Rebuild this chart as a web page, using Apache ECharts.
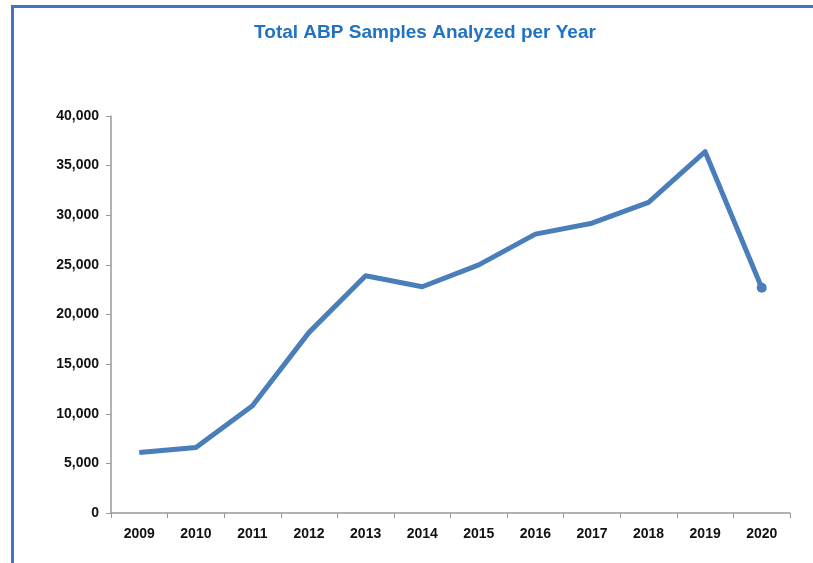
<!DOCTYPE html>
<html><head><meta charset="utf-8">
<script src="https://cdn.jsdelivr.net/npm/echarts@6/dist/echarts.min.js"></script>
<style>
html,body{margin:0;padding:0;background:#fff;}
#frame{position:absolute;left:11px;top:5px;width:802px;height:558px;border-left:3px solid #4472C4;border-top:3px solid #4472C4;}
#c{position:absolute;left:0;top:0;width:813px;height:563px;}
</style></head>
<body>
<div id="frame"></div>
<div id="c"></div>
<script>
const titleText = "Total ABP Samples Analyzed per Year";
const years = ["2009","2010","2011","2012","2013","2014","2015","2016","2017","2018","2019","2020"];
const samples = [6100, 6600, 10800, 18200, 23900, 22800, 25000, 28100, 29200, 31300, 36400, 22700];

const chart = echarts.init(document.getElementById('c'), null, {renderer:'canvas'});
chart.setOption({
  animation:false,
  title:{text:titleText,left:420,top:18,textAlign:'center',
    textStyle:{fontFamily:'Liberation Sans, Arial',fontSize:19,fontWeight:'bold',color:'#1F72C4'}},
  grid:{left:111,right:23,top:116,bottom:50},
  xAxis:{type:'category',data:years,boundaryGap:true,
    axisLine:{lineStyle:{color:'#999',width:1.5}},
    axisTick:{show:true,alignWithLabel:false,length:5,lineStyle:{color:'#999'}},
    axisLabel:{color:'#111',fontFamily:'Liberation Sans, Arial',fontWeight:'bold',fontSize:14,margin:14}},
  yAxis:{type:'value',min:0,max:40000,interval:5000,
    axisLine:{show:true,lineStyle:{color:'#999',width:1.5}},
    axisTick:{show:true,length:5,lineStyle:{color:'#999'}},
    splitLine:{show:false},
    axisLabel:{color:'#111',fontFamily:'Liberation Sans, Arial',fontWeight:'bold',fontSize:14,margin:12,
      formatter:v=>v.toLocaleString('en-US')}},
  series:[{type:'line',data:samples.map((v,i)=>i===samples.length-1?{value:v,symbol:'circle',symbolSize:10}:{value:v,symbol:'none'}),
    showSymbol:true,
    lineStyle:{color:'#4A7EBB',width:5,join:'round'},
    itemStyle:{color:'#4A7EBB'}}]
});
</script>
</body></html>
